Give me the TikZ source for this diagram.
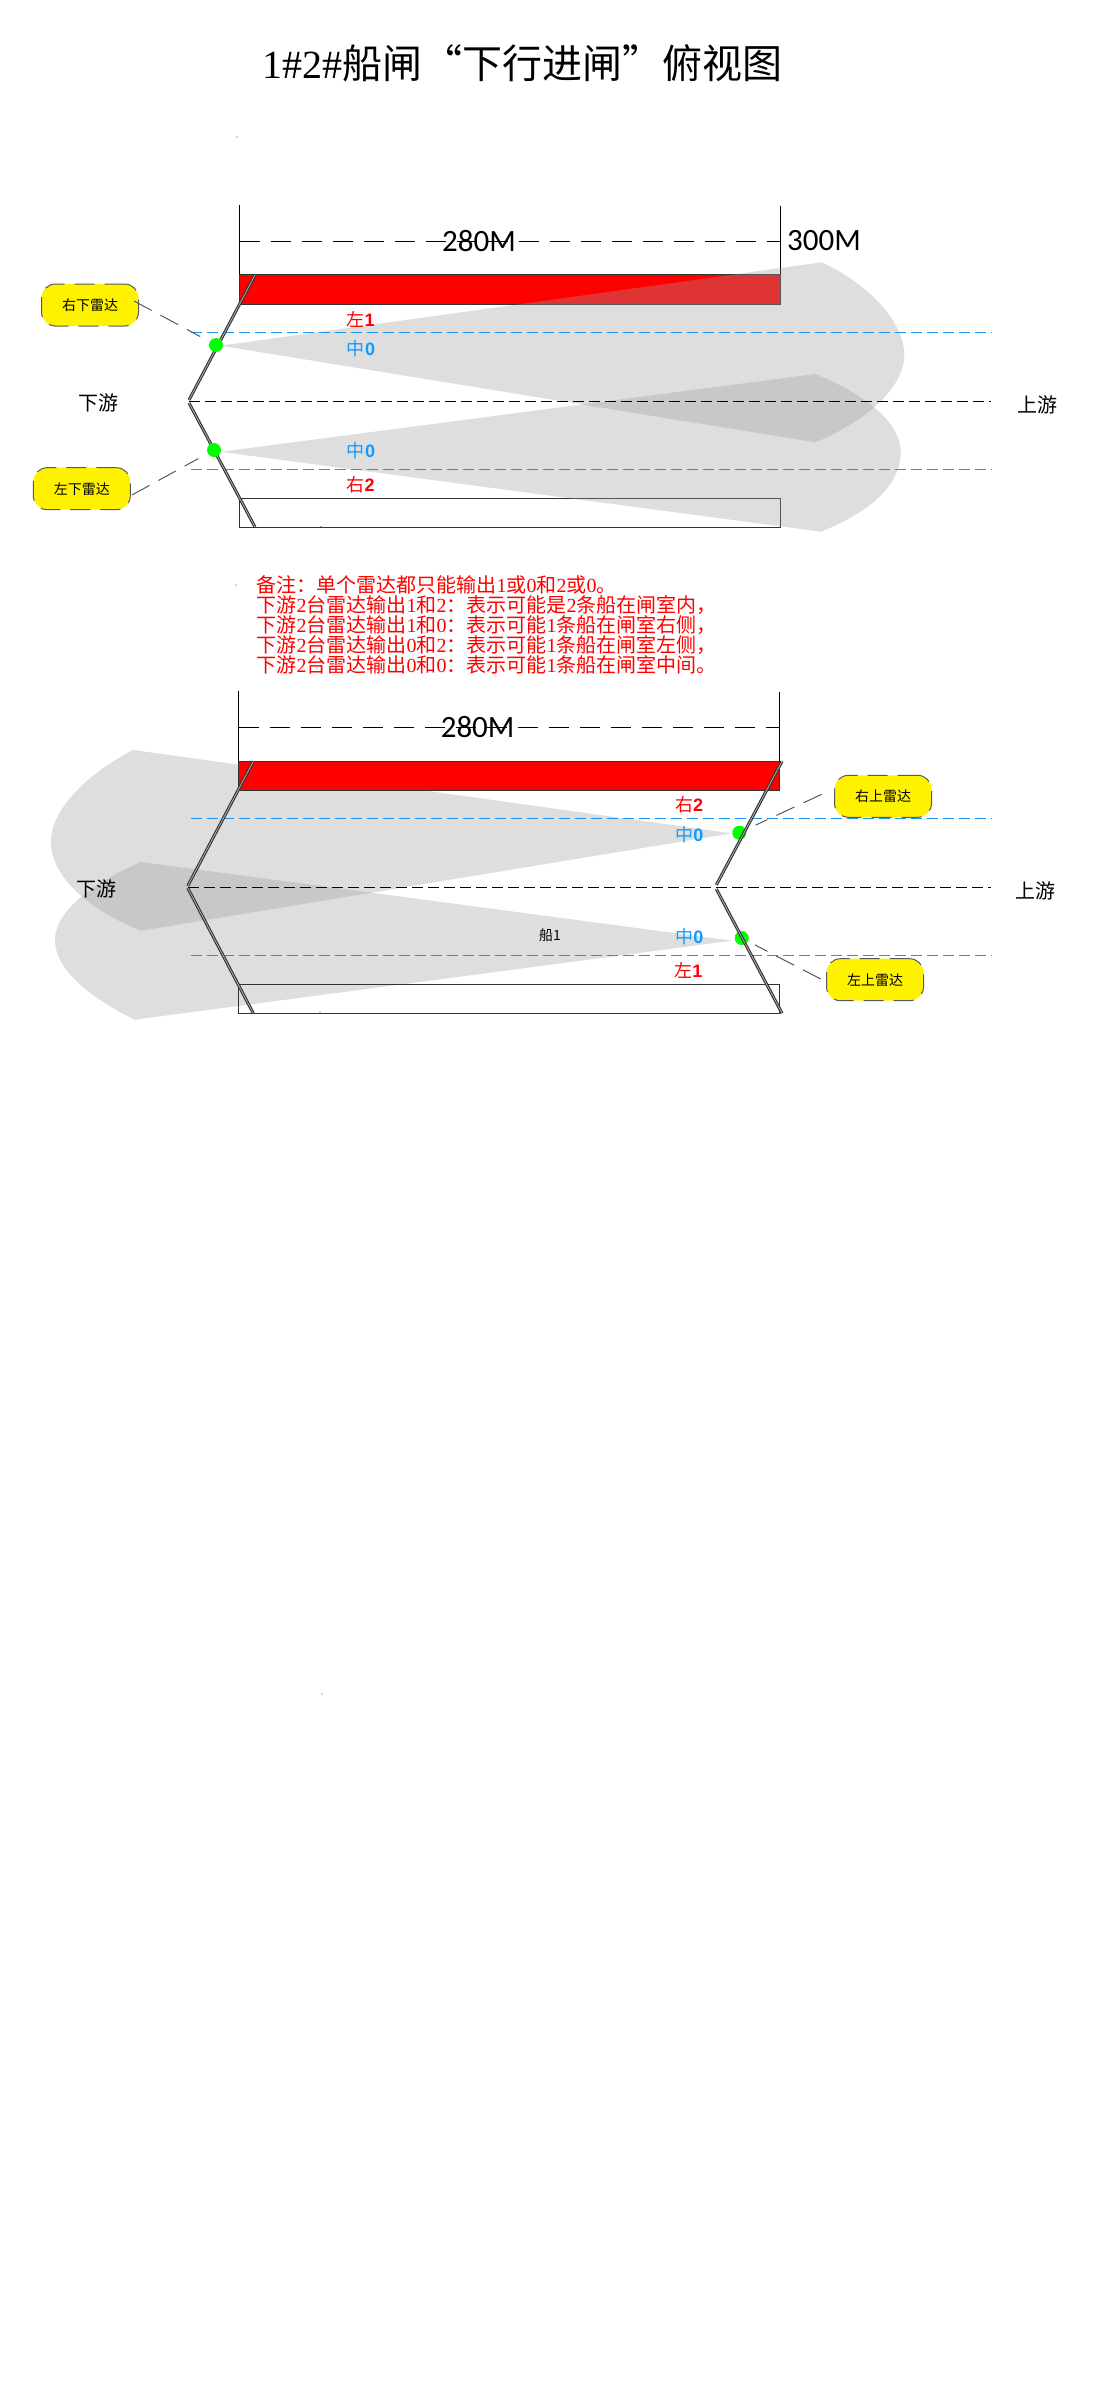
\documentclass[tikz,border=0pt]{standalone}
\usepackage{fontspec}
\setmainfont{Liberation Serif}
\setsansfont{Liberation Sans}
\newfontfamily\cj{Noto Sans CJK SC}
\newfontfamily\cali{Carlito}
\newcommand\zh[1]{{\cj #1}}
\newcommand\fs[1]{\fontsize{#1}{#1}\selectfont}
\newcommand\fwcolon{\char"FF1A\relax}
\newcommand\fwcomma{\char"FF0C\relax}
\definecolor{lockred}{RGB}{255,0,0}
\definecolor{blueline}{RGB}{25,150,245}
\definecolor{bluetext}{RGB}{15,155,255}
\definecolor{edge}{RGB}{51,51,51}
\definecolor{wallc}{RGB}{50,50,50}
\definecolor{wallin}{RGB}{175,175,175}
\definecolor{beamc}{RGB}{156,156,156}
\tikzset{
  every node/.style={inner sep=0pt,outer sep=0pt},
  beam/.style={fill=beamc,fill opacity=0.3333,draw=none},
  chamber/.style={draw=edge,line width=1pt},
  ruler/.style={draw=black,line width=1pt},
  wall/.style={draw=wallc,line width=1.1pt,double=wallin,double distance=0.8pt},
  dimline/.style={draw=black,line width=1.5pt,dash pattern=on 20pt off 11pt},
  axis/.style={draw=black,line width=1.5pt,dash pattern=on 11pt off 5pt},
  bluedash/.style={draw=blueline,line width=1.1pt,dash pattern=on 11pt off 5pt},
  radar/.style={circle,fill=green,minimum size=14pt},
  tagbox/.style={rectangle,rounded corners=14pt,fill=yellow,draw=gray!70!black,line width=1pt,dash pattern=on 20pt off 10pt,minimum width=97pt,minimum height=42pt,font=\cj\fs{14}},
  leader/.style={draw=gray!70!black,line width=1pt,dash pattern=on 20pt off 10pt},
  river/.style={font=\cj\fs{20}},
  redlab/.style={text=lockred,font=\fs{18}},
  bluelab/.style={text=bluetext,font=\fs{18}},
  dimlab/.style={font=\cali\fs{31}},
  speck/.style={circle,fill=black!70,minimum size=1.2pt}
}
\begin{document}
\begin{tikzpicture}[x=1pt,y=-1pt]
\useasboundingbox (0,0) rectangle (1100,2400);
\fill[white] (0,0) rectangle (1100,2400);
% title
\node (title) at (522.5,63.5) {\fs{40}1\#2\#\zh{船闸“下行进闸”俯视图}};
\node[speck] (sp1) at (237,137) {};
\node[speck] (sp2) at (236,585) {};
\node[speck] (sp3) at (321,526.5) {};
\node[speck] (sp4) at (320,1012) {};
\node[speck] (sp5) at (322,1694) {};

% ---------- upper plan ----------
\coordinate (ul) at (239.5,205);
\coordinate (ur) at (780.3,206);
\draw[ruler] (ul) -- (239.5,275);
\draw[ruler] (ur) -- (780.3,275);
\coordinate (dl1) at (239.5,241.5);
\coordinate (dr1) at (780.3,241.5);
\draw[dimline] (dl1) -- (dr1);
\node[dimlab] (d280a) at (479,241) {280M};
\node[dimlab] (d300) at (824,241) {300M};
\path[fill=lockred] (239.5,275) rectangle (780.3,304);
\draw[chamber] (239.5,275) rectangle (780.3,304);
\draw[chamber] (239.5,498.3) rectangle (780.3,527);
% beams
\path[beam] (220.6,345.7) -- (821.7,262.3) .. controls (865,282) and (904.3,320) .. (904.3,355) .. controls (904.3,385) and (870,420) .. (815,442.3) -- cycle;
\path[beam] (220.6,451.8) -- (815,374) .. controls (860,392) and (900.7,420) .. (900.7,452.3) .. controls (900.7,485) and (870,512) .. (821,531.7) -- cycle;
% centre and blue lines
\coordinate (a1) at (189,401.5); \coordinate (a2) at (991,401.5);
\draw[axis] (a1) -- (a2);
\coordinate (b1) at (191,332.5); \coordinate (b2) at (992,332.5);
\draw[bluedash] (b1) -- (b2);
\coordinate (b3) at (191,469.5); \coordinate (b4) at (992,469.5);
\draw[bluedash] (b3) -- (b4);
% walls
\coordinate (w1) at (189,400); \coordinate (w2) at (255,275);
\coordinate (w3) at (189,403); \coordinate (w4) at (255,527);
\draw[wall] (w1) -- (w2);
\draw[wall] (w3) -- (w4);
\node[radar] (r1) at (216,345) {};
\node[radar] (r2) at (214,450) {};
\node[tagbox] (t1) at (90,305) {右下雷达};
\node[tagbox] (t2) at (81.8,488.7) {左下雷达};
\coordinate (l1) at (134,301);
\coordinate (l2) at (132,495);
\draw[leader,shorten >=11pt] (l1) -- (r1);
\draw[leader,shorten >=11pt] (l2) -- (r2);
\node[redlab] (n1) at (360.6,319) {\zh{左}{\sffamily\bfseries 1}};
\node[bluelab] (n2) at (361,349) {\zh{中}{\sffamily\bfseries 0}};
\node[bluelab] (n3) at (361,451) {\zh{中}{\sffamily\bfseries 0}};
\node[redlab] (n4) at (360.6,485) {\zh{右}{\sffamily\bfseries 2}};
\node[river] (dn1) at (98,403) {下游};
\node[river] (up1) at (1037,405) {上游};

% ---------- notes ----------
\node[anchor=west,align=left,text=lockred,font=\fs{20}] (notes) at (256.6,624.5) {%
\fontsize{20}{20}\selectfont
\zh{备注\fwcolon 单个雷达都只能输出}1\zh{或}0\zh{和}2\zh{或}0\zh{。}\\
\zh{下游}2\zh{台雷达输出}1\zh{和}2\zh{\fwcolon 表示可能是}2\zh{条船在闸室内\fwcomma}\\
\zh{下游}2\zh{台雷达输出}1\zh{和}0\zh{\fwcolon 表示可能}1\zh{条船在闸室右侧\fwcomma}\\
\zh{下游}2\zh{台雷达输出}0\zh{和}2\zh{\fwcolon 表示可能}1\zh{条船在闸室左侧\fwcomma}\\
\zh{下游}2\zh{台雷达输出}0\zh{和}0\zh{\fwcolon 表示可能}1\zh{条船在闸室中间。}};

% ---------- lower plan ----------
\path[beam] (731.8,833.3) -- (133.3,750) .. controls (90,772) and (51,808) .. (51,841.7) .. controls (51,875) and (85,908) .. (140.7,930.7) -- cycle;
\path[beam] (732,940.7) -- (141,862) .. controls (95,882) and (55,910) .. (55,940) .. controls (55,970) and (90,997) .. (134.3,1019.7) -- cycle;
\coordinate (vl) at (238.5,691);
\coordinate (vr) at (779.3,692);
\draw[ruler] (vl) -- (238.5,761.3);
\draw[ruler] (vr) -- (779.3,761.3);
\coordinate (dl2) at (238.5,727.5);
\coordinate (dr2) at (779.3,727.5);
\draw[dimline] (dl2) -- (dr2);
\node[dimlab] (d280b) at (477.6,727) {280M};
\path[fill=lockred] (238.5,761.3) rectangle (779.3,790.3);
\draw[chamber] (238.5,761.3) rectangle (779.3,790.3);
\draw[chamber] (238.5,984.3) rectangle (779.3,1013.3);
\coordinate (a3) at (188,887.5); \coordinate (a4) at (991,887.5);
\draw[axis] (a3) -- (a4);
\coordinate (b5) at (191,818.5); \coordinate (b6) at (992,818.5);
\draw[bluedash] (b5) -- (b6);
\coordinate (b7) at (191,955.5); \coordinate (b8) at (992,955.5);
\draw[bluedash] (b7) -- (b8);
\node[radar] (r3) at (739.3,832.7) {};
\node[radar] (r4) at (741.7,938) {};
\coordinate (w5) at (187.7,886); \coordinate (w6) at (253.3,761.3);
\coordinate (w7) at (187.7,888); \coordinate (w8) at (253.3,1013.3);
\coordinate (w9) at (716.3,885); \coordinate (w10) at (782,761.3);
\coordinate (w11) at (716.3,889); \coordinate (w12) at (782,1013.3);
\draw[wall] (w5) -- (w6);
\draw[wall] (w7) -- (w8);
\draw[wall] (w9) -- (w10);
\draw[wall] (w11) -- (w12);
\node[tagbox] (t3) at (883,796.3) {右上雷达};
\node[tagbox] (t4) at (875,979.7) {左上雷达};
\coordinate (l3) at (821.7,794.3);
\coordinate (l4) at (820.7,979);
\draw[leader,shorten >=11pt] (l3) -- (r3);
\draw[leader,shorten >=8pt] (l4) -- (r4);
\node[redlab] (n5) at (689,804.3) {\zh{右}{\sffamily\bfseries 2}};
\node[bluelab] (n6) at (689.3,834.3) {\zh{中}{\sffamily\bfseries 0}};
\node[bluelab] (n7) at (689.3,936.3) {\zh{中}{\sffamily\bfseries 0}};
\node[redlab] (n8) at (688.3,970) {\zh{左}{\sffamily\bfseries 1}};
\node[river] (dn2) at (96.6,888.7) {下游};
\node[river] (up2) at (1035.7,891) {上游};
\node[font=\cj\fs{14}] (ship) at (550,935) {船1};
\end{tikzpicture}
\end{document}
